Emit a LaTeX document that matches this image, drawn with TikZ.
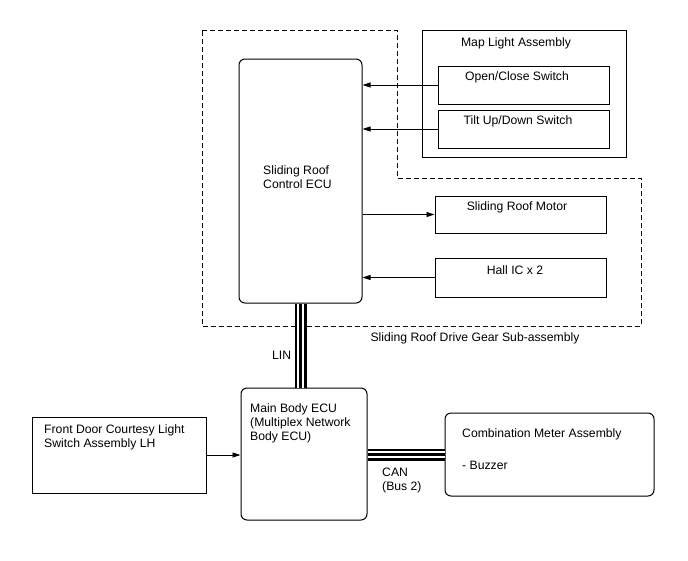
\documentclass[tikz,border=0pt]{standalone}
\usepackage{fontspec}
\setmainfont{Liberation Sans}
\usetikzlibrary{arrows.meta}

\tikzset{
  unit/.style={draw, line width=1pt, rounded corners=6pt, inner sep=0pt},
  part/.style={draw, line width=1pt, inner sep=0pt},
  txt/.style={inner sep=0pt, align=left, font=\fontsize{12.2}{14}\selectfont},
  sig/.style={line width=0.9pt, -{Triangle[length=8pt,width=5pt]}},
  bus/.style={draw=white, line width=7pt, preaction={draw=black, line width=12pt}, postaction={draw=black, line width=3pt}}
}

\begin{document}
\begin{tikzpicture}[x=1pt, y=-1pt]
\useasboundingbox (0,0) rectangle (688,560);
\draw[line width=1pt, dash pattern=on 5pt off 3pt] (202,30) -- (397,30) -- (397,178) -- (641,178) -- (641,326) -- (202,326) -- cycle;
\node[unit, minimum width=123pt, minimum height=244pt] (ecu) at (300.5,181) {};
\node[part, minimum width=204pt, minimum height=127pt] (maplt) at (524,93.5) {};
\node[part, minimum width=171pt, minimum height=38pt] (oc) at (523.5,85) {};
\node[part, minimum width=171pt, minimum height=38pt] (tilt) at (523.5,129) {};
\node[part, minimum width=171pt, minimum height=37pt] (motor) at (520.5,214.5) {};
\node[part, minimum width=171pt, minimum height=39pt] (hall) at (520.5,277.5) {};
\node[unit, minimum width=126pt, minimum height=132pt] (mb) at (304,454) {};
\node[part, minimum width=174pt, minimum height=76pt] (fd) at (119,455) {};
\node[unit, minimum width=209pt, minimum height=83pt] (cm) at (549.5,454.5) {};
\node[txt, anchor=north] (mapltlbl) at (516,37.5) {Map Light Assembly};
\node[txt, anchor=north] (oclbl) at (517,71.5) {Open/Close Switch};
\node[txt, anchor=north] (tiltlbl) at (518,115.5) {Tilt Up/Down Switch};
\node[txt, anchor=north] (motorlbl) at (517,201.5) {Sliding Roof Motor};
\node[txt, anchor=north] (halllbl) at (515,265.5) {Hall IC x 2};
\node[txt, anchor=north] (sublbl) at (475,332.5) {Sliding Roof Drive Gear Sub-assembly};
\node[txt, anchor=north west] (eculbl) at (263,165.5) {Sliding Roof\\Control ECU};
\node[txt, anchor=north west] (linlbl) at (272,350.5) {LIN};
\node[txt, anchor=north west] (mblbl) at (250,403.5) {Main Body ECU\\(Multiplex Network\\Body ECU)};
\node[txt, anchor=north west] (fdlbl) at (44,424.5) {Front Door Courtesy Light\\Switch Assembly LH};
\node[txt, anchor=north west] (cmlbl) at (462,428.5) {Combination Meter Assembly\\[18pt]- Buzzer};
\node[txt, anchor=north west] (canlbl) at (382,467.5) {CAN\\(Bus 2)};
\draw[sig] (oc.west) -- (oc.west -| ecu.east);
\draw[sig] (tilt.west) -- (tilt.west -| ecu.east);
\draw[sig] (motor.west -| ecu.east) -- (motor.west);
\draw[sig] (hall.west) -- (hall.west -| ecu.east);
\draw[sig] (fd.east) -- (fd.east -| mb.west);
\draw[bus] (ecu.south) -- (ecu.south |- mb.north);
\draw[bus] (cm.west -| mb.east) -- (cm.west);
\end{tikzpicture}
\end{document}
